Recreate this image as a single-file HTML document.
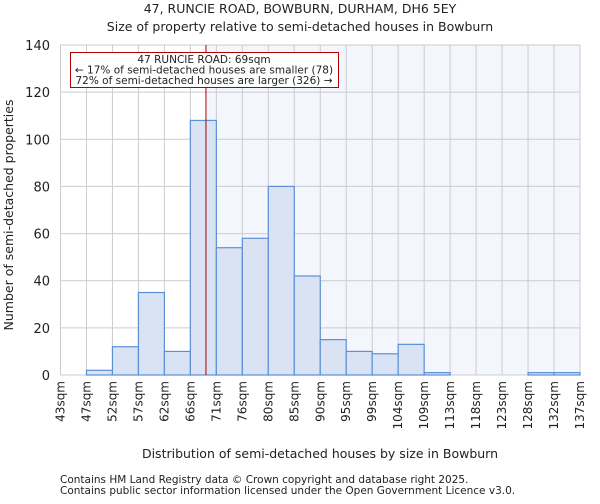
<!DOCTYPE html>
<html><head><meta charset="utf-8"><style>
body{margin:0;background:#fff;font-family:"DejaVu Sans","Liberation Sans",sans-serif;}
svg text{font-family:"DejaVu Sans","Liberation Sans",sans-serif;fill:#222;}
</style></head><body>
<svg id="chart" width="600" height="500" xmlns="http://www.w3.org/2000/svg">
<text x="300" y="13" font-size="12.5" text-anchor="middle">47, RUNCIE ROAD, BOWBURN, DURHAM, DH6 5EY</text>
<text x="300" y="31" font-size="12.5" text-anchor="middle">Size of property relative to semi-detached houses in Bowburn</text>
<g id="plot"></g>
<text x="320" y="458" font-size="12.5" text-anchor="middle">Distribution of semi-detached houses by size in Bowburn</text>
<text transform="translate(13,215) rotate(-90)" font-size="12.5" text-anchor="middle">Number of semi-detached properties</text>
<text x="60" y="483" font-size="10.5">Contains HM Land Registry data © Crown copyright and database right 2025.</text>
<text x="60" y="494" font-size="10.5">Contains public sector information licensed under the Open Government Licence v3.0.</text>
</svg>
<script>
const binLabels=["43sqm","47sqm","52sqm","57sqm","62sqm","66sqm","71sqm","76sqm","80sqm","85sqm","90sqm","95sqm","99sqm","104sqm","109sqm","113sqm","118sqm","123sqm","128sqm","132sqm","137sqm"];
const counts=[0,2,12,35,10,108,54,58,80,42,15,10,9,13,1,0,0,0,1,1];
const yTicks=[0,20,40,60,80,100,120,140];
const markerBin=5.6;
const NS="http://www.w3.org/2000/svg";
const g=document.getElementById('plot');
const x0=60.5,x1=580,yTop=45,yBot=375,yMax=140;
const bw=(x1-x0)/counts.length;
const X=i=>x0+i*bw;
const Y=v=>yBot-v/yMax*(yBot-yTop);
function mk(t,a){const e=document.createElementNS(NS,t);for(const k in a)e.setAttribute(k,a[k]);g.appendChild(e);return e;}
const mx=X(markerBin);
let e=mk('rect',{x:mx,y:yTop,width:x1-mx,height:yBot-yTop,fill:'#f3f6fd'});


binLabels.forEach((l,i)=>{let ln=mk('line',{x1:X(i),x2:X(i),y1:yTop,y2:yBot,stroke:'#ccc'});


let t=mk('text',{transform:`translate(${X(i)+4},381) rotate(-90)`,'font-size':'12','text-anchor':'end'});t.textContent=l;

});
yTicks.forEach(v=>{let ln=mk('line',{x1:x0,x2:x1,y1:Y(v),y2:Y(v),stroke:'#ccc'});


let t=mk('text',{x:50,y:Y(v)+5,'font-size':'13','text-anchor':'end'});t.textContent=v;

});
counts.forEach((c,i)=>{if(c<=0)return;let r=mk('rect',{x:X(i),y:Y(c),width:bw,height:yBot-Y(c),fill:'#dae3f3',stroke:'#5b8fd6','stroke-width':1.2});

});
e=mk('line',{x1:mx,x2:mx,y1:yTop,y2:yBot,stroke:'#b00000','stroke-width':1});


e=mk('rect',{x:70.5,y:52.5,width:268,height:35,fill:'#fff',stroke:'#b00000'});


[["47 RUNCIE ROAD: 69sqm",63],["← 17% of semi-detached houses are smaller (78)",73.5],["72% of semi-detached houses are larger (326) →",84]].forEach(([s,y])=>{let t=mk('text',{x:204,y:y,'font-size':'10.5','text-anchor':'middle'});t.textContent=s;

});
</script>
</body></html>
